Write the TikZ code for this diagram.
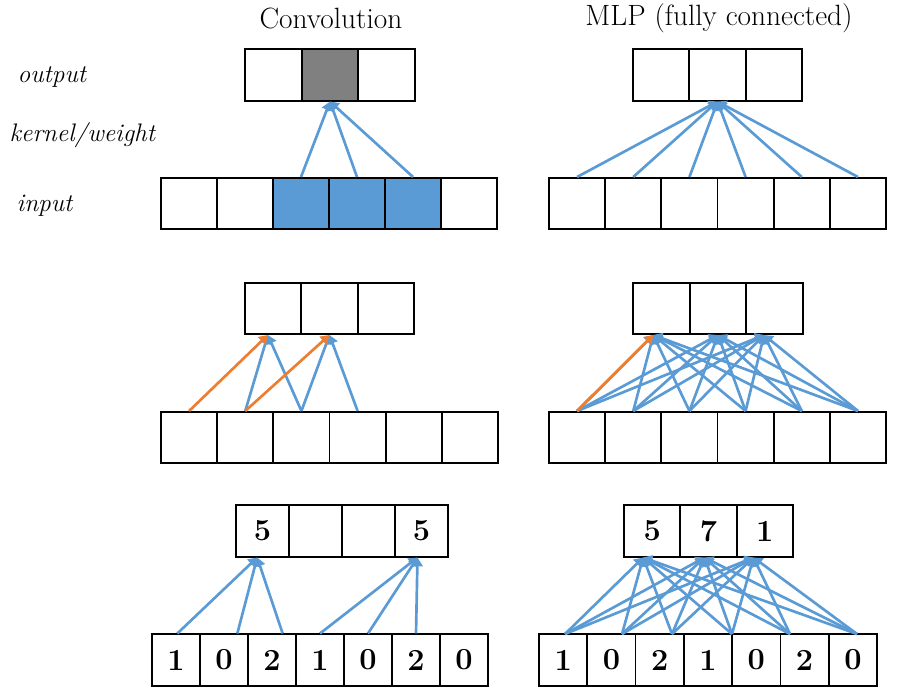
\documentclass[tikz,border=0pt]{standalone}
\usetikzlibrary{arrows.meta}
\definecolor{wblue}{RGB}{91,155,213}
\definecolor{worange}{RGB}{237,125,49}
\definecolor{wgray}{RGB}{128,128,128}

\tikzset{
  cell/.style={draw, line width=1.3pt, inner sep=0pt, minimum height=38.5pt,
    font=\fontsize{23}{26}\selectfont\bfseries},
  conn/.style={line width=2pt, color=wblue, -{Triangle[width=8pt,length=6.5pt]}},
  hot/.style={conn, color=worange},
  title/.style={font=\fontsize{22}{26}\selectfont},
  side/.style={font=\fontsize{19}{22}\selectfont\itshape, anchor=base west},
}

\begin{document}
\begin{tikzpicture}[x=0.75pt, y=-0.75pt]
	%%%%% START %%%%%
	\useasboundingbox (0,0) rectangle (902,696);
	
	\node[title] (convtitle) at (331,18) {Convolution};
	\node[title] (mlptitle) at (719,18) {MLP (fully connected)};
	
	\node[side] (outlabel) at (13,82) {output};
	\node[side] (kernlabel) at (5,141) {kernel/weight};
	\node[side] (inlabel) at (12,211) {input};
	
	% first row: convolution
	\foreach \i/\f in {1/white,2/wgray,3/white}
		\node[cell, minimum width=42.5pt, fill=\f] (aout\i) at ({245+(\i-0.5)*56.67},75) {};
	\foreach \i/\f in {1/white,2/white,3/wblue,4/wblue,5/wblue,6/white}
		\node[cell, minimum width=42pt, fill=\f] (ain\i) at ({161+(\i-0.5)*56},203.5) {};
	\foreach \i in {3,4,5}
		\draw[conn] (ain\i.north) -- (aout2.south);
	
	% first row: mlp
	\foreach \i in {1,2,3}
		\node[cell, minimum width=42.25pt] (bout\i) at ({633+(\i-0.5)*56.33},75) {};
	\foreach \i in {1,...,6}
		\node[cell, minimum width=42.1pt] (bin\i) at ({549+(\i-0.5)*56.17},203.5) {};
	\foreach \i in {1,...,6}
		\draw[conn] (bin\i.north) -- (bout2.south);
	
	% second row: convolution
	\foreach \i in {1,2,3}
		\node[cell, minimum width=42.25pt] (cout\i) at ({245+(\i-0.5)*56.33},308.5) {};
	\foreach \i in {1,...,6}
		\node[cell, minimum width=42.1pt] (cin\i) at ({161+(\i-0.5)*56.17},437.5) {};
	\coordinate (ct1) at ([xshift=-4pt]cout1.south);
	\coordinate (ct2) at (cout2.south);
	\draw[conn] (cin2.north) -- (ct1);
	\draw[conn] (cin3.north) -- (ct1);
	\draw[conn] (cin3.north) -- (ct2);
	\draw[conn] (cin4.north) -- (ct2);
	\draw[hot] (cin1.north) -- (ct1);
	\draw[hot] (cin2.north) -- (ct2);
	
	% second row: mlp
	\foreach \i in {1,2,3}
		\node[cell, minimum width=42.5pt] (dout\i) at ({633+(\i-0.5)*56.67},308.5) {};
	\foreach \i in {1,...,6}
		\node[cell, minimum width=42.1pt] (din\i) at ({549+(\i-0.5)*56.17},437.5) {};
	\coordinate (dt1) at ([xshift=-6pt]dout1.south);
	\coordinate (dt2) at (dout2.south);
	\coordinate (dt3) at ([xshift=-8pt]dout3.south);
	\foreach \i in {1,...,6}
		\foreach \j in {1,2,3}
			\draw[conn] (din\i.north) -- (dt\j);
	\draw[hot] (din1.north) -- (dt1);
	
	% third row: convolution
	\foreach \i/\v in {1/5,2/{},3/{},4/5}
		\node[cell, minimum width=39.75pt] (eout\i) at ({236+(\i-0.5)*53},531) {\v};
	\foreach \i/\v in {1/1,2/0,3/2,4/1,5/0,6/2,7/0}
		\node[cell, minimum width=36pt] (ein\i) at ({152+(\i-0.5)*48},660) {\v};
	\coordinate (es1) at ([xshift=1pt]ein1.north);
	\coordinate (es2) at ([xshift=10pt]ein2.north);
	\coordinate (es3) at ([xshift=8pt]ein3.north);
	\coordinate (et1) at ([xshift=-4pt]eout1.south);
	\coordinate (et4) at ([xshift=-3pt]eout4.south);
	\foreach \i in {1,2,3}
		\draw[conn] (es\i) -- (et1);
	\foreach \i in {4,5,6}
		\draw[conn] (ein\i.north) -- (et4);
	
	% third row: mlp
	\foreach \i/\v in {1/5,2/7,3/1}
		\node[cell, minimum width=42.25pt] (fout\i) at ({624+(\i-0.5)*56.33},531) {\v};
	\foreach \i/\v in {1/1,2/0,3/2,4/1,5/0,6/2,7/0}
		\node[cell, minimum width=36.2pt] (fin\i) at ({539+(\i-0.5)*48.29},660) {\v};
	\foreach \i/\x in {1/565,2/622,3/672,4/732,5/790,6/857}
		\coordinate (fs\i) at (\x,634);
	\coordinate (ft1) at ([xshift=-6.75pt]fout1.south);
	\coordinate (ft2) at ([xshift=-3pt]fout2.south);
	\coordinate (ft3) at ([xshift=-8.5pt]fout3.south);
	\foreach \i in {1,...,6}
		\foreach \j in {1,2,3}
			\draw[conn] (fs\i) -- (ft\j);
	
	%%%%% END %%%%%
\end{tikzpicture}
\end{document}
